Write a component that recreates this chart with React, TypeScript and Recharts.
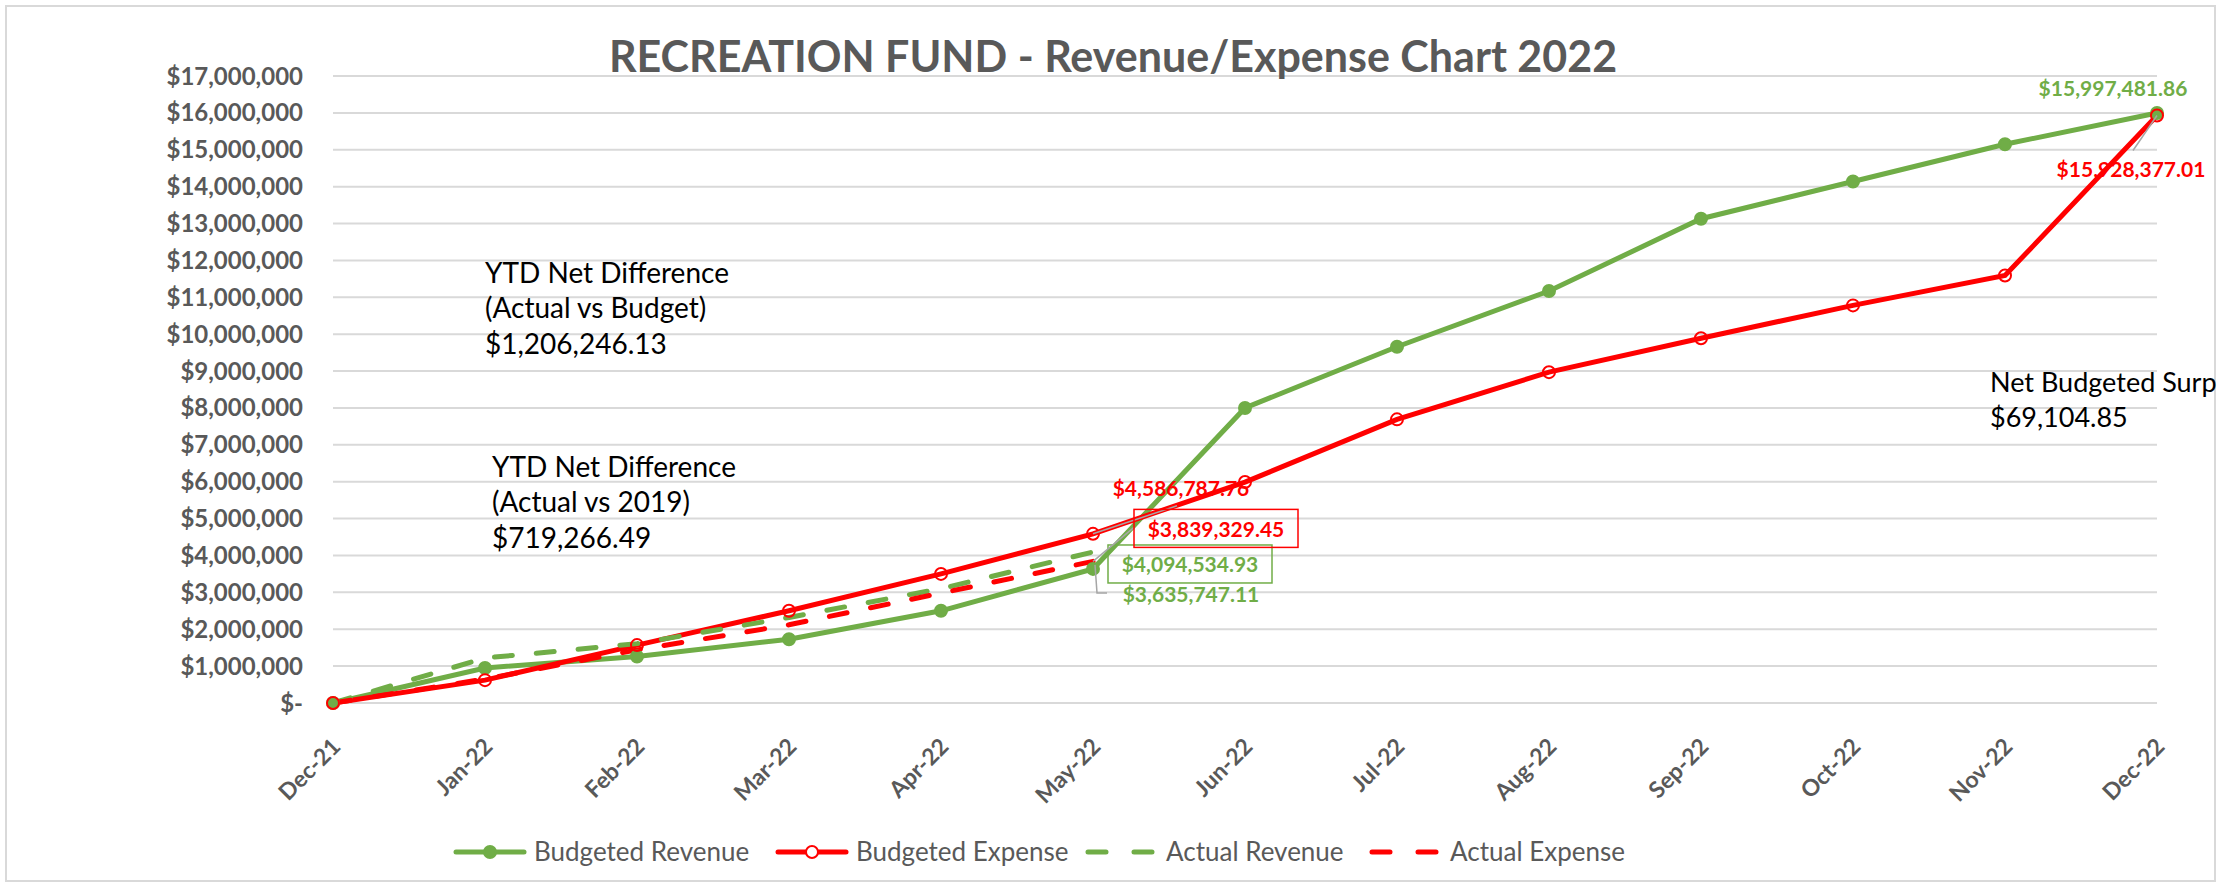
import React from "react";
import { LineChart, Line, XAxis, YAxis, CartesianGrid } from "recharts";

const months = [
  "Dec-21", "Jan-22", "Feb-22", "Mar-22", "Apr-22", "May-22", "Jun-22",
  "Jul-22", "Aug-22", "Sep-22", "Oct-22", "Nov-22", "Dec-22",
];
const budgetedRevenue = [
  0, 950000, 1260000, 1730000, 2500000, 3635747.11, 8000000,
  9660000, 11170000, 13130000, 14140000, 15150000, 15997481.86,
];
const budgetedExpense = [
  0, 620000, 1570000, 2500000, 3500000, 4586787.76, 5990000,
  7690000, 8970000, 9890000, 10780000, 11590000, 15928377.01,
];
const actualRevenue = [0, 1220000, 1610000, 2320000, 3100000, 4094534.93];
const actualExpense = [0, 650000, 1440000, 2120000, 2980000, 3839329.45];
const yTicks = [
  0, 1000000, 2000000, 3000000, 4000000, 5000000, 6000000, 7000000, 8000000,
  9000000, 10000000, 11000000, 12000000, 13000000, 14000000, 15000000,
  16000000, 17000000,
];

const chartData = months.map((m, i) => ({
  month: m,
  budRev: budgetedRevenue[i],
  budExp: budgetedExpense[i],
  actRev: actualRevenue[i],
  actExp: actualExpense[i],
}));

const GREEN = "#70AD47";
const RED = "#FF0000";
const GREY = "#595959";
const FONT = "Lato, 'Open Sans', sans-serif";

const money = (v: number) =>
  "$" + v.toLocaleString("en-US", { minimumFractionDigits: 2, maximumFractionDigits: 2 });
const axisMoney = (v: number) => (v === 0 ? "$-" : "$" + v.toLocaleString("en-US"));

// where each data label sits relative to its point (index -> offset)
type Callout = { dx: number; dy: number; box?: boolean; leader?: number[][] };
const callouts: Record<string, Record<number, Callout>> = {
  budRev: {
    5: { dx: 98, dy: 25, leader: [[2, -4], [4, 24], [14, 24]] },
    12: { dx: -44, dy: -25 },
  },
  budExp: {
    5: { dx: 88, dy: -46, leader: [[0, 0], [84, -28]] },
    12: { dx: -26, dy: 53, leader: [[0, 0], [-24, 35]] },
  },
  actRev: { 5: { dx: 97, dy: 12, box: true } },
  actExp: { 5: { dx: 123, dy: -33, box: true, leader: [[0, 0], [41, -34]] } },
};

const makeLabel = (key: string, color: string) => (props: any) => {
  const c = callouts[key][props.index];
  if (!c || props.value == null) return null;
  const { x, y } = props;
  const cx = x + c.dx;
  const cy = y + c.dy;
  return (
    <g key={`${key}-${props.index}`}>
      {c.leader && (
        <polyline
          points={c.leader.map(([a, b]) => `${x + a},${y + b}`).join(" ")}
          fill="none"
          stroke="#A6A6A6"
          strokeWidth={1.5}
        />
      )}
      {c.box && (
        <rect x={cx - 82} y={cy - 19} width={164} height={38} fill="none" stroke={color} strokeWidth={1.5} />
      )}
      <text
        x={cx}
        y={cy}
        textAnchor="middle"
        dominantBaseline="central"
        fill={color}
        fontFamily={FONT}
        fontWeight={700}
        fontSize={21}
      >
        {money(props.value)}
      </text>
    </g>
  );
};

const XTick = (props: any) => {
  const { x, y, payload } = props;
  const px = x + 9;
  const py = y + 45;
  return (
    <text
      x={px}
      y={py}
      transform={`rotate(-45 ${px} ${py})`}
      textAnchor="end"
      fill={GREY}
      fontFamily={FONT}
      fontWeight={700}
      fontSize={23}
    >
      {payload.value}
    </text>
  );
};

const legendItems = [
  { name: "Budgeted Revenue", color: GREEN, dashed: false, marker: "filled", textX: 534 },
  { name: "Budgeted Expense", color: RED, dashed: false, marker: "open", textX: 856 },
  { name: "Actual Revenue", color: GREEN, dashed: true, marker: "none", textX: 1166 },
  { name: "Actual Expense", color: RED, dashed: true, marker: "none", textX: 1450 },
];

function Overlay() {
  const ly = 852;
  return (
    <svg
      width={2236}
      height={887}
      style={{ position: "absolute", left: 0, top: 0, pointerEvents: "none" }}
    >
      <rect x={6} y={6} width={2209} height={875} fill="none" stroke="#D9D9D9" strokeWidth={2} />
      <text x={1113} y={72} textAnchor="middle" fill={GREY} fontFamily={FONT} fontWeight={700} fontSize={43}>
        RECREATION FUND - Revenue/Expense Chart 2022
      </text>
      <g fontFamily={FONT} fontSize={28} fill="#000">
        <text x={485}>
          <tspan x={485} y={283}>YTD Net Difference</tspan>
          <tspan x={485} y={318}>(Actual vs Budget)</tspan>
          <tspan x={485} y={354}>$1,206,246.13</tspan>
        </text>
        <text x={492}>
          <tspan x={492} y={477}>YTD Net Difference</tspan>
          <tspan x={492} y={512}>(Actual vs 2019)</tspan>
          <tspan x={492} y={548}>$719,266.49</tspan>
        </text>
      </g>
      <text x={1990} fontFamily={FONT} fontSize={27} fill="#000">
        <tspan x={1990} y={392}>Net Budgeted Surp</tspan>
        <tspan x={1990} y={427}>$69,104.85</tspan>
      </text>
      {legendItems.map((it) => {
        const x0 = it.textX - 78;
        const x1 = it.textX - 10;
        return (
          <g key={it.name}>
            <line
              x1={x0}
              x2={x1}
              y1={ly}
              y2={ly}
              stroke={it.color}
              strokeWidth={5}
              strokeLinecap="round"
              strokeDasharray={it.dashed ? "18 28" : undefined}
            />
            {it.marker !== "none" && (
              <circle
                cx={(x0 + x1) / 2}
                cy={ly}
                r={6}
                fill={it.marker === "filled" ? it.color : "#fff"}
                stroke={it.color}
                strokeWidth={2}
              />
            )}
            <text x={it.textX} y={ly + 9} fill={GREY} fontFamily={FONT} fontSize={26}>
              {it.name}
            </text>
          </g>
        );
      })}
    </svg>
  );
}

export default function App() {
  return (
    <div style={{ position: "absolute", left: 0, top: 0, width: 2236, height: 887, background: "#fff" }}>
      <LineChart
        width={2236}
        height={887}
        data={chartData}
        margin={{ top: 76, right: 79, left: 0, bottom: 0 }}
      >
        <CartesianGrid vertical={false} stroke="#D9D9D9" strokeWidth={2} />
        <XAxis
          dataKey="month"
          interval={0}
          height={184}
          axisLine={false}
          tickLine={false}
          tickSize={0}
          tickMargin={0}
          tick={<XTick />}
        />
        <YAxis
          type="number"
          width={333}
          domain={[0, 17000000]}
          ticks={yTicks}
          interval={0}
          axisLine={false}
          tickLine={false}
          tickSize={0}
          tickMargin={30}
          tickFormatter={axisMoney}
          tick={{ fill: GREY, fontSize: 24, fontWeight: 700, fontFamily: FONT }}
        />
        <Line
          dataKey="budRev"
          stroke={GREEN}
          strokeWidth={5}
          dot={{ r: 6, fill: GREEN, stroke: GREEN, strokeWidth: 2 }}
          activeDot={false}
          isAnimationActive={false}
        />
        <Line
          dataKey="budExp"
          stroke={RED}
          strokeWidth={5}
          dot={{ r: 6, fill: "none", stroke: RED, strokeWidth: 2 }}
          activeDot={false}
          isAnimationActive={false}
        />
        <Line
          dataKey="actRev"
          stroke={GREEN}
          strokeWidth={5}
          strokeDasharray="18 24"
          strokeLinecap="round"
          dot={false}
          activeDot={false}
          isAnimationActive={false}
        />
        <Line
          dataKey="actExp"
          stroke={RED}
          strokeWidth={5}
          strokeDasharray="18 24"
          strokeLinecap="round"
          dot={false}
          activeDot={false}
          isAnimationActive={false}
        />
        {/* label-only passes so the callouts sit above every line */}
        <Line dataKey="budRev" stroke="none" dot={false} activeDot={false} isAnimationActive={false} label={makeLabel("budRev", GREEN)} />
        <Line dataKey="budExp" stroke="none" dot={false} activeDot={false} isAnimationActive={false} label={makeLabel("budExp", RED)} />
        <Line dataKey="actRev" stroke="none" dot={false} activeDot={false} isAnimationActive={false} label={makeLabel("actRev", GREEN)} />
        <Line dataKey="actExp" stroke="none" dot={false} activeDot={false} isAnimationActive={false} label={makeLabel("actExp", RED)} />
      </LineChart>
      <Overlay />
    </div>
  );
}
